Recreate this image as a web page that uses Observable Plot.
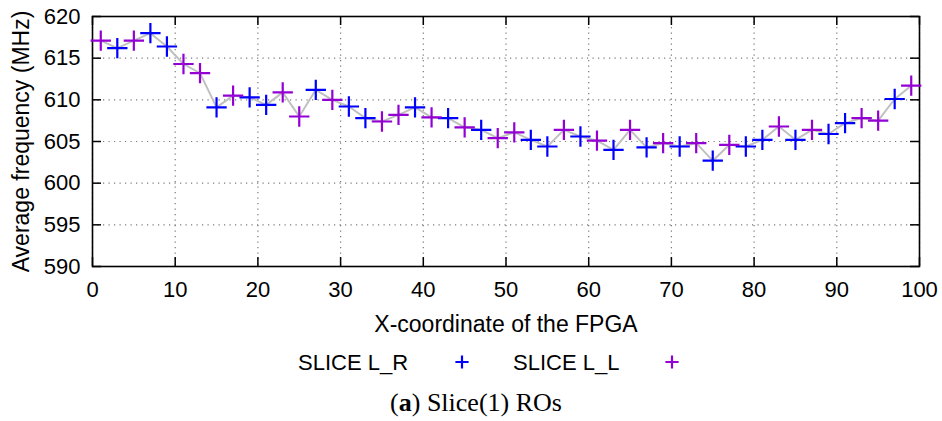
<!DOCTYPE html>
<html><head><meta charset="utf-8">
<script src="https://cdn.jsdelivr.net/npm/d3@7"></script>
<script src="https://cdn.jsdelivr.net/npm/@observablehq/plot@0.6"></script>
<style>
body{margin:0;background:#fff;}
#wrap{position:relative;width:942px;height:421px;overflow:hidden;background:#fff;font-family:"Liberation Sans",Arial,sans-serif;}
#wrap svg{display:block}
.leg{position:absolute;font-size:22px;line-height:22px;white-space:nowrap;color:#000}
.sym{position:absolute}
#cap{position:absolute;left:336px;width:280px;text-align:center;font-family:"Liberation Serif","Times New Roman",serif;font-size:26px;line-height:26px;white-space:nowrap;color:#000}
</style></head><body><div id="wrap"></div>
<script>
// ---- data ----
const seriesNames = ["SLICE L_R", "SLICE L_L"];
const seriesColors = ["#0000ff", "#9400d3"];
const xLR = [3, 7, 9, 15, 19, 21, 27, 31, 33, 39, 43, 47, 53, 55, 59, 63, 67, 71, 75, 79, 81, 85, 89, 91, 97];
const yLR = [616.2, 618.0, 616.4, 609.1, 610.3, 609.4, 611.2, 609.2, 607.8, 609.1, 607.8, 606.4, 605.2, 604.4, 605.6, 604.0, 604.3, 604.4, 602.7, 604.4, 605.2, 605.2, 605.9, 607.2, 610.1];
const xLL = [1, 5, 11, 13, 17, 23, 25, 29, 35, 37, 41, 45, 49, 51, 57, 61, 65, 69, 73, 77, 83, 87, 93, 95, 99];
const yLL = [617.1, 617.1, 614.3, 613.2, 610.5, 610.9, 608.0, 610.0, 607.4, 608.2, 607.9, 606.7, 605.4, 606.1, 606.4, 605.1, 606.4, 604.8, 604.8, 604.6, 606.8, 606.4, 607.8, 607.5, 611.7];
const xTicks = [0, 10, 20, 30, 40, 50, 60, 70, 80, 90, 100];
const yTicks = [590, 595, 600, 605, 610, 615, 620];
const xLabel = "X-coordinate of the FPGA";
const yLabel = "Average frequency (MHz)";

// ---- build table ----
const rows = [
  ...xLR.map((x, i) => ({x, y: yLR[i], s: seriesNames[0]})),
  ...xLL.map((x, i) => ({x, y: yLL[i], s: seriesNames[1]}))
];
const lineRows = rows.slice().sort((a, b) => a.x - b.x);

const W = 942, H = 345, mL = 92, mR = 23, mT = 16, mB = 79;
const innerW = W - mL - mR, innerH = H - mT - mB;
const tk = 9;

const chart = Plot.plot({
  width: W, height: H,
  marginLeft: mL, marginRight: mR, marginTop: mT, marginBottom: mB,
  style: {fontFamily: "'Liberation Sans', Arial, sans-serif", fontSize: "22px", background: "white", color: "black", overflow: "visible"},
  x: {domain: [0, 100], ticks: xTicks, label: null},
  y: {domain: [590, 620], ticks: yTicks, label: null},
  color: {domain: seriesNames, range: seriesColors},
  marks: [
    Plot.gridX(xTicks, {stroke: "#7a7a7a", strokeOpacity: 1, strokeWidth: 1.2, strokeDasharray: "1.2,4.3"}),
    Plot.gridY(yTicks, {stroke: "#7a7a7a", strokeOpacity: 1, strokeWidth: 1.2, strokeDasharray: "1.2,4.3"}),
    Plot.tickX(xTicks, {x: d => d, insetTop: innerH - tk, stroke: "black", strokeWidth: 1.5}),
    Plot.tickX(xTicks, {x: d => d, insetBottom: innerH - tk, stroke: "black", strokeWidth: 1.5}),
    Plot.tickY(yTicks, {y: d => d, insetRight: innerW - tk, stroke: "black", strokeWidth: 1.5}),
    Plot.tickY(yTicks, {y: d => d, insetLeft: innerW - tk, stroke: "black", strokeWidth: 1.5}),
    Plot.frame({stroke: "black", strokeWidth: 1.6}),
    Plot.axisX(xTicks, {tickSize: 0, tickPadding: 15, fontSize: 22}),
    Plot.axisY(yTicks, {tickSize: 0, tickPadding: 12, fontSize: 22}),
    Plot.line(lineRows, {x: "x", y: "y", stroke: "#c0c0c0", strokeWidth: 2}),
    Plot.dot(rows, {x: "x", y: "y", stroke: "s", symbol: "plus", r: 6.6, strokeWidth: 2.2}),
    Plot.text([xLabel], {text: d => d, frameAnchor: "bottom", dy: 49, lineAnchor: "top", fontSize: 23}),
    Plot.text([yLabel], {text: d => d, frameAnchor: "left", textAnchor: "middle", dx: -71, rotate: -90, fontSize: 23})
  ]
});
const wrap = document.getElementById("wrap");
wrap.appendChild(chart);

// ---- legend ----
const legPos = [{tx: 298, px: 462}, {tx: 513, px: 672}];
const ns = "http://www.w3.org/2000/svg";
seriesNames.forEach((name, i) => {
  const t = document.createElement("div");
  t.className = "leg";
  t.style.left = legPos[i].tx + "px";
  t.style.top = "352px";
  t.textContent = name;
  wrap.appendChild(t);
  const s = document.createElementNS(ns, "svg");
  s.setAttribute("class", "sym");
  s.setAttribute("width", 20); s.setAttribute("height", 20);
  s.style.left = (legPos[i].px - 10) + "px";
  s.style.top = (362 - 10) + "px";
  s.innerHTML = `<path d="M3.4,10H16.6M10,3.4V16.6" stroke="${seriesColors[i]}" stroke-width="2.2" fill="none"/>`;
  wrap.appendChild(s);
});

// ---- caption ----
const cap = document.createElement("div");
cap.id = "cap";
cap.style.top = "390px";
cap.innerHTML = "(<b>a</b>) Slice(1) ROs";
wrap.appendChild(cap);
</script></body></html>
